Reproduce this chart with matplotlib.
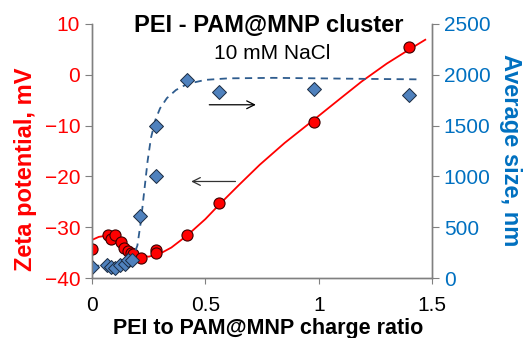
import numpy as np
import matplotlib
matplotlib.use("Agg")
import matplotlib.pyplot as plt

plt.rcParams["font.family"] = ["Liberation Sans", "DejaVu Sans"]

# zeta potential (left axis)
zeta_x = [0.0, 0.07, 0.085, 0.10, 0.128, 0.14, 0.16, 0.17, 0.18, 0.215, 0.28, 0.28, 0.42, 0.56, 0.98, 1.40]
zeta_y = [-34.3, -31.6, -32.4, -31.6, -33.0, -34.0, -34.6, -35.0, -35.2, -36.0, -34.4, -35.0, -31.5, -25.2, -9.3, 5.4]

# fitted zeta curve
zeta_fit_x = [0.0, 0.03, 0.06, 0.1, 0.15, 0.2, 0.25, 0.3, 0.35, 0.42, 0.5, 0.56, 0.65, 0.74, 0.85, 0.98,
              1.1, 1.19, 1.3, 1.4, 1.47]
zeta_fit_y = [-32.5, -31.9, -31.7, -32.6, -34.4, -35.5, -35.8, -35.2, -34.0, -31.6, -28.4, -25.6, -21.6,
              -17.7, -13.4, -8.8, -4.5, -1.3, 2.2, 5.0, 6.9]

# average size (right axis)
size_x = [0.0, 0.067, 0.085, 0.10, 0.124, 0.146, 0.16, 0.175, 0.212, 0.283, 0.283, 0.42, 0.56, 0.98, 1.40]
size_y = [109, 129, 109, 99, 129, 139, 179, 179, 615, 1000, 1500, 1944, 1835, 1865, 1806]

# fitted size curve
size_fit_x = [0.0, 0.1, 0.15, 0.18, 0.2, 0.215, 0.23, 0.245, 0.26, 0.28, 0.3, 0.33, 0.37, 0.42, 0.5, 0.6,
              0.8, 1.0, 1.2, 1.45]
size_fit_y = [120, 125, 150, 200, 320, 550, 850, 1150, 1380, 1560, 1670, 1770, 1850, 1910, 1950, 1965,
              1970, 1965, 1960, 1955]

red = "#FF0000"
blue = "#0070C0"
spine_c = "#808080"

fig = plt.figure(figsize=(5.26, 3.38), dpi=100)
ax = fig.add_axes([0.175, 0.1775, 0.6464, 0.7515])
ax2 = ax.twinx()

ax.plot(zeta_fit_x, zeta_fit_y, color=red, lw=1.3, zorder=2)
ax.plot(zeta_x, zeta_y, "o", color=red, mec="#3a0000", mew=0.8, ms=8, zorder=3)

ax2.plot(size_fit_x, size_fit_y, "--", color="#2E5C8E", lw=1.3, dashes=(4, 3))
ax2.plot(size_x, size_y, "D", color="#4F81BD", mec="#1a2a40", mew=0.7, ms=7)

ax.set_xlim(0, 1.5)
ax.set_ylim(-40, 10)
ax2.set_ylim(0, 2500)
ax.set_xticks([0, 0.5, 1, 1.5])
ax.set_xticklabels(["0", "0.5", "1", "1.5"])
ax.set_yticks([-40, -30, -20, -10, 0, 10])
ax2.set_yticks([0, 500, 1000, 1500, 2000, 2500])

for a in (ax, ax2):
    a.spines["top"].set_visible(False)
    for s in ("left", "right", "bottom"):
        a.spines[s].set_color(spine_c)
        a.spines[s].set_linewidth(1.0)
ax.tick_params(axis="x", direction="out", length=4, color=spine_c, labelsize=15, pad=9)
ax.tick_params(axis="y", direction="out", length=5, color=spine_c, labelsize=15, labelcolor=red)
ax2.tick_params(axis="y", direction="out", length=5, color=spine_c, labelsize=15, labelcolor=blue)

ax.set_xlabel("PEI to PAM@MNP charge ratio", fontsize=15.5, fontweight="bold", va="center")
ax.xaxis.set_label_coords(0.519, -0.20)
ax.set_ylabel("Zeta potential, mV", fontsize=17, fontweight="bold", color=red, va="center")
ax.yaxis.set_label_coords(-0.197, 0.43)
ax2.set_ylabel("Average size, nm", fontsize=17, fontweight="bold", color=blue,
               rotation=270, va="center")
ax2.yaxis.set_label_coords(1.232, 0.503)

fig.text(0.511, 0.926, "PEI - PAM@MNP cluster", fontsize=17, fontweight="bold",
         ha="center", va="center")
fig.text(0.517, 0.843, "10 mM NaCl", fontsize=15, ha="center", va="center")

ax.annotate("", xy=(0.735, -5.9), xytext=(0.505, -5.9),
            arrowprops=dict(arrowstyle="->", color="black", lw=0.9, mutation_scale=14))
ax.annotate("", xy=(0.425, -21.0), xytext=(0.645, -21.0),
            arrowprops=dict(arrowstyle="->", color="#333333", lw=0.9, mutation_scale=14))

fig.savefig("out.png", dpi=100)
